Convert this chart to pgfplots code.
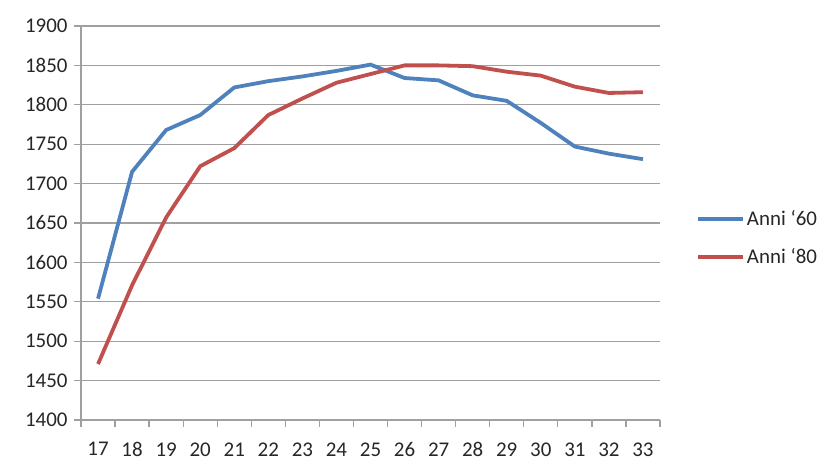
\documentclass[border=0pt]{standalone}
\usepackage{fontspec}
\setmainfont{Carlito}
\usepackage{pgfplots}
\pgfplotsset{compat=1.18}
\definecolor{blu}{HTML}{4F81BD}
\definecolor{rosso}{HTML}{C0504D}
\definecolor{griglia}{HTML}{A0A0A0}
\begin{document}
\begin{tikzpicture}
\useasboundingbox (-81bp,-50bp) rectangle (753bp,420bp);
\begin{axis}[
    at={(0,0)}, anchor=south west,
    scale only axis,
    width=579bp, height=394bp,
    xmin=16.5, xmax=33.5,
    ymin=1400, ymax=1900,
    xtick={17,...,33},
    minor xtick={16.5,17.5,...,33.5},
    ytick={1400,1450,...,1900},
    axis lines*=left,
    axis line style={griglia, line width=1.3bp},
    ymajorgrids,
    major grid style={griglia, line width=1.3bp},
    tick align=outside,
    major tick length=7bp,
    minor tick length=7bp,
    major x tick style={draw=none},
    minor x tick style={griglia, line width=1.3bp},
    y tick style={griglia, line width=1.3bp},
    tick label style={font=\fontsize{21}{25}\selectfont, text=black!85},
    /pgf/number format/assume math mode=true,
    /pgf/number format/1000 sep={},
    xticklabel style={yshift=-12bp},
    yticklabel style={xshift=-3bp},
    legend style={at={(1.057,0.462)}, anchor=west, draw=none, fill=none,
        font=\fontsize{21}{25}\selectfont, row sep=17bp, text=black!85},
    legend cell align=left,
    legend image code/.code={\draw[#1] (0bp,0bp) -- (45bp,0bp);},
]
\addplot[blu, line width=3.8bp] coordinates {
(17,1554) (18,1715) (19,1768) (20,1787) (21,1822) (22,1830) (23,1836)
(24,1843) (25,1851) (26,1834) (27,1831) (28,1812) (29,1805) (30,1777)
(31,1747) (32,1738) (33,1731)};
\addlegendentry{Anni ‘60}
\addplot[rosso, line width=3.8bp] coordinates {
(17,1471) (18,1571) (19,1657) (20,1722) (21,1745) (22,1787) (23,1808)
(24,1828) (25,1839) (26,1850) (27,1850) (28,1849) (29,1842) (30,1837)
(31,1823) (32,1815) (33,1816)};
\addlegendentry{Anni ‘80}
\end{axis}
\end{tikzpicture}
\end{document}
